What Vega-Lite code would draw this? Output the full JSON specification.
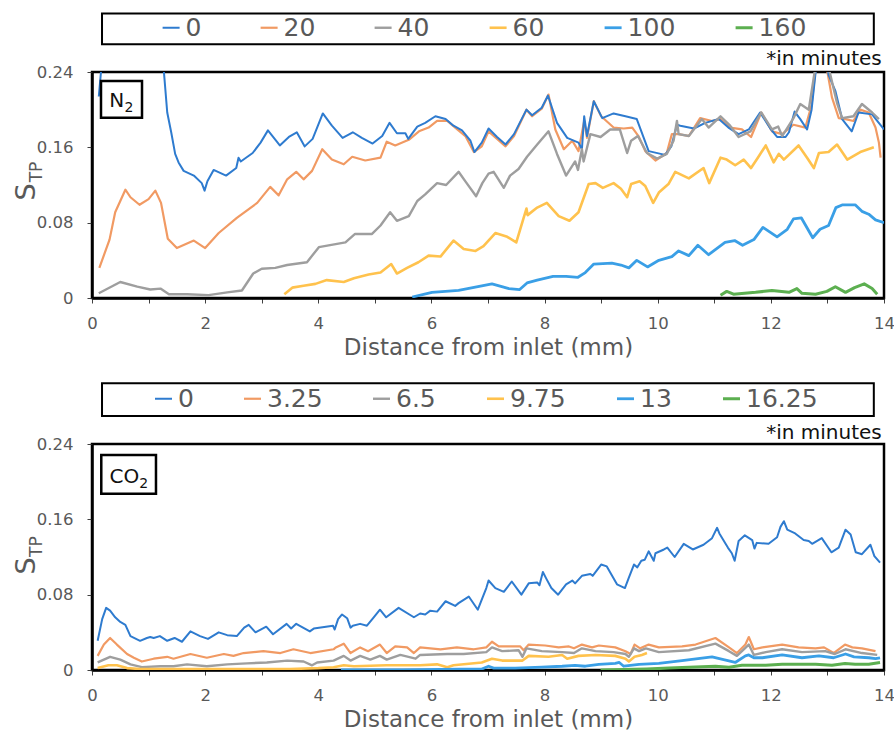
{
"$schema": "https://vega.github.io/schema/vega-lite/v6.json",
"background": "white",
"padding": {"left": 11, "top": 11, "right": 5, "bottom": 5},
"bounds": "flush",
"spacing": 146,
"config": {
 "view": {"stroke": "black", "strokeWidth": 2.5},
 "font": "DejaVu Sans",
 "axis": {"domainColor": "black", "domainWidth": 2.5, "tickColor": "#404040", "tickWidth": 1, "tickSize": 5, "labelFont": "DejaVu Sans", "labelFontSize": 16.5, "labelColor": "#595959", "labelFlush": false, "titleFont": "DejaVu Sans", "titleFontSize": 23, "titleFontWeight": "normal", "titleColor": "#595959", "grid": false},
 "legend": {"title": null, "orient": "none", "direction": "horizontal", "symbolType": "stroke", "symbolSize": 289, "symbolStrokeWidth": 2, "labelFont": "DejaVu Sans", "labelFontSize": 25, "labelColor": "#595959", "labelOffset": 2, "padding": 0}
},
"datasets": {
"n2": [
{"t":"20","x":0.13,"y":0.032},{"t":"20","x":0.31,"y":0.062},{"t":"20","x":0.41,"y":0.091},{"t":"20","x":0.59,"y":0.115},{"t":"20","x":0.68,"y":0.107},{"t":"20","x":0.84,"y":0.099},{"t":"20","x":1.0,"y":0.105},{"t":"20","x":1.12,"y":0.114},{"t":"20","x":1.22,"y":0.101},{"t":"20","x":1.34,"y":0.063},{"t":"20","x":1.5,"y":0.053},{"t":"20","x":1.8,"y":0.061},{"t":"20","x":2.0,"y":0.053},{"t":"20","x":2.24,"y":0.069},{"t":"20","x":2.56,"y":0.085},{"t":"20","x":2.92,"y":0.101},{"t":"20","x":3.15,"y":0.118},{"t":"20","x":3.3,"y":0.109},{"t":"20","x":3.45,"y":0.126},{"t":"20","x":3.61,"y":0.134},{"t":"20","x":3.74,"y":0.126},{"t":"20","x":3.89,"y":0.135},{"t":"20","x":4.07,"y":0.158},{"t":"20","x":4.24,"y":0.147},{"t":"20","x":4.45,"y":0.142},{"t":"20","x":4.6,"y":0.15},{"t":"20","x":4.83,"y":0.146},{"t":"20","x":5.1,"y":0.149},{"t":"20","x":5.21,"y":0.166},{"t":"20","x":5.36,"y":0.162},{"t":"20","x":5.6,"y":0.168},{"t":"20","x":5.78,"y":0.177},{"t":"20","x":5.95,"y":0.181},{"t":"20","x":6.1,"y":0.188},{"t":"20","x":6.28,"y":0.188},{"t":"20","x":6.42,"y":0.181},{"t":"20","x":6.6,"y":0.172},{"t":"20","x":6.75,"y":0.155},{"t":"20","x":6.89,"y":0.161},{"t":"20","x":7.01,"y":0.177},{"t":"20","x":7.16,"y":0.169},{"t":"20","x":7.31,"y":0.161},{"t":"20","x":7.46,"y":0.172},{"t":"20","x":7.68,"y":0.2},{"t":"20","x":7.78,"y":0.193},{"t":"20","x":7.95,"y":0.201},{"t":"20","x":8.07,"y":0.216},{"t":"20","x":8.19,"y":0.179},{"t":"20","x":8.34,"y":0.158},{"t":"20","x":8.49,"y":0.167},{"t":"20","x":8.6,"y":0.156},{"t":"20","x":8.7,"y":0.188},{"t":"20","x":8.75,"y":0.17},{"t":"20","x":8.87,"y":0.209},{"t":"20","x":9.0,"y":0.193},{"t":"20","x":9.22,"y":0.181},{"t":"20","x":9.4,"y":0.18},{"t":"20","x":9.55,"y":0.181},{"t":"20","x":9.66,"y":0.172},{"t":"20","x":9.78,"y":0.156},{"t":"20","x":9.96,"y":0.146},{"t":"20","x":10.16,"y":0.154},{"t":"20","x":10.25,"y":0.174},{"t":"20","x":10.37,"y":0.174},{"t":"20","x":10.55,"y":0.172},{"t":"20","x":10.75,"y":0.191},{"t":"20","x":10.96,"y":0.188},{"t":"20","x":11.11,"y":0.19},{"t":"20","x":11.28,"y":0.181},{"t":"20","x":11.49,"y":0.179},{"t":"20","x":11.65,"y":0.171},{"t":"20","x":11.83,"y":0.197},{"t":"20","x":12.02,"y":0.177},{"t":"20","x":12.2,"y":0.174},{"t":"20","x":12.4,"y":0.184},{"t":"20","x":12.61,"y":0.181},{"t":"20","x":12.72,"y":0.205},{"t":"20","x":12.84,"y":0.27},{"t":"20","x":12.94,"y":0.26},{"t":"20","x":13.08,"y":0.213},{"t":"20","x":13.2,"y":0.191},{"t":"20","x":13.32,"y":0.19},{"t":"20","x":13.46,"y":0.188},{"t":"20","x":13.58,"y":0.2},{"t":"20","x":13.73,"y":0.197},{"t":"20","x":13.85,"y":0.181},{"t":"20","x":13.91,"y":0.165},{"t":"20","x":13.94,"y":0.149},
{"t":"0","x":0.12,"y":0.214},{"t":"0","x":0.16,"y":0.241},{"t":"0","x":0.22,"y":0.29},{"t":"0","x":0.6,"y":0.32},{"t":"0","x":1.0,"y":0.3},{"t":"0","x":1.2,"y":0.275},{"t":"0","x":1.27,"y":0.241},{"t":"0","x":1.33,"y":0.197},{"t":"0","x":1.4,"y":0.176},{"t":"0","x":1.47,"y":0.153},{"t":"0","x":1.53,"y":0.144},{"t":"0","x":1.62,"y":0.135},{"t":"0","x":1.8,"y":0.13},{"t":"0","x":1.94,"y":0.122},{"t":"0","x":1.99,"y":0.114},{"t":"0","x":2.04,"y":0.124},{"t":"0","x":2.15,"y":0.136},{"t":"0","x":2.37,"y":0.13},{"t":"0","x":2.55,"y":0.138},{"t":"0","x":2.59,"y":0.149},{"t":"0","x":2.63,"y":0.145},{"t":"0","x":2.84,"y":0.154},{"t":"0","x":2.98,"y":0.165},{"t":"0","x":3.11,"y":0.178},{"t":"0","x":3.32,"y":0.162},{"t":"0","x":3.48,"y":0.171},{"t":"0","x":3.62,"y":0.176},{"t":"0","x":3.76,"y":0.161},{"t":"0","x":3.9,"y":0.169},{"t":"0","x":4.08,"y":0.196},{"t":"0","x":4.24,"y":0.183},{"t":"0","x":4.43,"y":0.17},{"t":"0","x":4.61,"y":0.176},{"t":"0","x":4.77,"y":0.17},{"t":"0","x":4.96,"y":0.164},{"t":"0","x":5.13,"y":0.172},{"t":"0","x":5.26,"y":0.186},{"t":"0","x":5.39,"y":0.175},{"t":"0","x":5.54,"y":0.175},{"t":"0","x":5.59,"y":0.169},{"t":"0","x":5.75,"y":0.182},{"t":"0","x":5.89,"y":0.186},{"t":"0","x":6.07,"y":0.193},{"t":"0","x":6.25,"y":0.19},{"t":"0","x":6.39,"y":0.183},{"t":"0","x":6.54,"y":0.178},{"t":"0","x":6.69,"y":0.167},{"t":"0","x":6.76,"y":0.155},{"t":"0","x":6.89,"y":0.165},{"t":"0","x":7.01,"y":0.18},{"t":"0","x":7.16,"y":0.171},{"t":"0","x":7.31,"y":0.163},{"t":"0","x":7.46,"y":0.174},{"t":"0","x":7.68,"y":0.2},{"t":"0","x":7.78,"y":0.194},{"t":"0","x":7.95,"y":0.202},{"t":"0","x":8.06,"y":0.215},{"t":"0","x":8.22,"y":0.186},{"t":"0","x":8.4,"y":0.17},{"t":"0","x":8.6,"y":0.165},{"t":"0","x":8.66,"y":0.158},{"t":"0","x":8.7,"y":0.193},{"t":"0","x":8.75,"y":0.172},{"t":"0","x":8.87,"y":0.209},{"t":"0","x":9.02,"y":0.191},{"t":"0","x":9.22,"y":0.196},{"t":"0","x":9.43,"y":0.193},{"t":"0","x":9.63,"y":0.19},{"t":"0","x":9.84,"y":0.156},{"t":"0","x":10.13,"y":0.152},{"t":"0","x":10.24,"y":0.161},{"t":"0","x":10.34,"y":0.184},{"t":"0","x":10.4,"y":0.183},{"t":"0","x":10.64,"y":0.18},{"t":"0","x":10.84,"y":0.186},{"t":"0","x":11.08,"y":0.19},{"t":"0","x":11.25,"y":0.181},{"t":"0","x":11.43,"y":0.174},{"t":"0","x":11.61,"y":0.179},{"t":"0","x":11.81,"y":0.197},{"t":"0","x":11.99,"y":0.18},{"t":"0","x":12.11,"y":0.171},{"t":"0","x":12.26,"y":0.171},{"t":"0","x":12.32,"y":0.176},{"t":"0","x":12.42,"y":0.198},{"t":"0","x":12.52,"y":0.19},{"t":"0","x":12.64,"y":0.179},{"t":"0","x":12.72,"y":0.2},{"t":"0","x":12.79,"y":0.239},{"t":"0","x":12.88,"y":0.275},{"t":"0","x":12.97,"y":0.26},{"t":"0","x":13.02,"y":0.237},{"t":"0","x":13.14,"y":0.22},{"t":"0","x":13.26,"y":0.19},{"t":"0","x":13.43,"y":0.177},{"t":"0","x":13.55,"y":0.197},{"t":"0","x":13.79,"y":0.195},{"t":"0","x":13.88,"y":0.188},{"t":"0","x":14.0,"y":0.179},
{"t":"40","x":0.12,"y":0.005},{"t":"40","x":0.5,"y":0.017},{"t":"40","x":0.8,"y":0.012},{"t":"40","x":1.03,"y":0.009},{"t":"40","x":1.21,"y":0.01},{"t":"40","x":1.36,"y":0.004},{"t":"40","x":1.68,"y":0.004},{"t":"40","x":2.06,"y":0.003},{"t":"40","x":2.39,"y":0.006},{"t":"40","x":2.65,"y":0.008},{"t":"40","x":2.85,"y":0.026},{"t":"40","x":3.0,"y":0.031},{"t":"40","x":3.24,"y":0.032},{"t":"40","x":3.45,"y":0.035},{"t":"40","x":3.8,"y":0.038},{"t":"40","x":4.01,"y":0.054},{"t":"40","x":4.48,"y":0.059},{"t":"40","x":4.65,"y":0.068},{"t":"40","x":4.95,"y":0.068},{"t":"40","x":5.1,"y":0.077},{"t":"40","x":5.27,"y":0.091},{"t":"40","x":5.39,"y":0.082},{"t":"40","x":5.6,"y":0.087},{"t":"40","x":5.75,"y":0.103},{"t":"40","x":5.89,"y":0.11},{"t":"40","x":6.1,"y":0.122},{"t":"40","x":6.26,"y":0.12},{"t":"40","x":6.48,"y":0.134},{"t":"40","x":6.61,"y":0.123},{"t":"40","x":6.79,"y":0.108},{"t":"40","x":6.9,"y":0.122},{"t":"40","x":7.01,"y":0.132},{"t":"40","x":7.1,"y":0.134},{"t":"40","x":7.28,"y":0.117},{"t":"40","x":7.39,"y":0.13},{"t":"40","x":7.54,"y":0.137},{"t":"40","x":7.69,"y":0.15},{"t":"40","x":7.87,"y":0.163},{"t":"40","x":8.07,"y":0.177},{"t":"40","x":8.22,"y":0.153},{"t":"40","x":8.38,"y":0.13},{"t":"40","x":8.54,"y":0.145},{"t":"40","x":8.59,"y":0.136},{"t":"40","x":8.66,"y":0.158},{"t":"40","x":8.69,"y":0.145},{"t":"40","x":8.81,"y":0.174},{"t":"40","x":8.99,"y":0.171},{"t":"40","x":9.16,"y":0.179},{"t":"40","x":9.33,"y":0.179},{"t":"40","x":9.46,"y":0.154},{"t":"40","x":9.53,"y":0.167},{"t":"40","x":9.65,"y":0.172},{"t":"40","x":9.81,"y":0.154},{"t":"40","x":9.99,"y":0.148},{"t":"40","x":10.16,"y":0.153},{"t":"40","x":10.28,"y":0.167},{"t":"40","x":10.34,"y":0.188},{"t":"40","x":10.37,"y":0.174},{"t":"40","x":10.55,"y":0.172},{"t":"40","x":10.78,"y":0.19},{"t":"40","x":10.9,"y":0.181},{"t":"40","x":11.11,"y":0.193},{"t":"40","x":11.28,"y":0.183},{"t":"40","x":11.43,"y":0.171},{"t":"40","x":11.64,"y":0.177},{"t":"40","x":11.83,"y":0.197},{"t":"40","x":12.02,"y":0.179},{"t":"40","x":12.13,"y":0.182},{"t":"40","x":12.2,"y":0.172},{"t":"40","x":12.4,"y":0.191},{"t":"40","x":12.52,"y":0.206},{"t":"40","x":12.67,"y":0.2},{"t":"40","x":12.8,"y":0.25},{"t":"40","x":12.9,"y":0.27},{"t":"40","x":13.0,"y":0.25},{"t":"40","x":13.17,"y":0.207},{"t":"40","x":13.26,"y":0.191},{"t":"40","x":13.46,"y":0.193},{"t":"40","x":13.61,"y":0.206},{"t":"40","x":13.79,"y":0.197},{"t":"40","x":13.91,"y":0.19},
{"t":"60","x":3.4,"y":0.004},{"t":"60","x":3.54,"y":0.011},{"t":"60","x":3.74,"y":0.013},{"t":"60","x":3.95,"y":0.015},{"t":"60","x":4.15,"y":0.019},{"t":"60","x":4.45,"y":0.017},{"t":"60","x":4.63,"y":0.021},{"t":"60","x":4.89,"y":0.025},{"t":"60","x":5.1,"y":0.027},{"t":"60","x":5.29,"y":0.036},{"t":"60","x":5.39,"y":0.026},{"t":"60","x":5.57,"y":0.032},{"t":"60","x":5.77,"y":0.038},{"t":"60","x":5.95,"y":0.045},{"t":"60","x":6.16,"y":0.044},{"t":"60","x":6.39,"y":0.061},{"t":"60","x":6.57,"y":0.052},{"t":"60","x":6.78,"y":0.05},{"t":"60","x":6.92,"y":0.055},{"t":"60","x":7.13,"y":0.069},{"t":"60","x":7.34,"y":0.065},{"t":"60","x":7.5,"y":0.059},{"t":"60","x":7.63,"y":0.085},{"t":"60","x":7.68,"y":0.095},{"t":"60","x":7.7,"y":0.088},{"t":"60","x":7.87,"y":0.096},{"t":"60","x":8.04,"y":0.101},{"t":"60","x":8.25,"y":0.087},{"t":"60","x":8.44,"y":0.082},{"t":"60","x":8.6,"y":0.091},{"t":"60","x":8.78,"y":0.121},{"t":"60","x":8.9,"y":0.122},{"t":"60","x":9.03,"y":0.117},{"t":"60","x":9.22,"y":0.122},{"t":"60","x":9.35,"y":0.116},{"t":"60","x":9.46,"y":0.107},{"t":"60","x":9.53,"y":0.121},{"t":"60","x":9.68,"y":0.124},{"t":"60","x":9.78,"y":0.119},{"t":"60","x":9.92,"y":0.101},{"t":"60","x":10.02,"y":0.112},{"t":"60","x":10.19,"y":0.121},{"t":"60","x":10.31,"y":0.134},{"t":"60","x":10.55,"y":0.127},{"t":"60","x":10.81,"y":0.138},{"t":"60","x":10.91,"y":0.122},{"t":"60","x":11.11,"y":0.149},{"t":"60","x":11.22,"y":0.147},{"t":"60","x":11.37,"y":0.141},{"t":"60","x":11.52,"y":0.147},{"t":"60","x":11.65,"y":0.138},{"t":"60","x":11.77,"y":0.149},{"t":"60","x":11.91,"y":0.162},{"t":"60","x":12.05,"y":0.144},{"t":"60","x":12.14,"y":0.153},{"t":"60","x":12.23,"y":0.147},{"t":"60","x":12.49,"y":0.162},{"t":"60","x":12.64,"y":0.149},{"t":"60","x":12.76,"y":0.138},{"t":"60","x":12.85,"y":0.154},{"t":"60","x":13.02,"y":0.155},{"t":"60","x":13.17,"y":0.163},{"t":"60","x":13.35,"y":0.147},{"t":"60","x":13.58,"y":0.155},{"t":"60","x":13.82,"y":0.16},
{"t":"100","x":5.66,"y":0.001},{"t":"100","x":6.01,"y":0.006},{"t":"100","x":6.48,"y":0.008},{"t":"100","x":6.89,"y":0.013},{"t":"100","x":7.07,"y":0.015},{"t":"100","x":7.37,"y":0.01},{"t":"100","x":7.56,"y":0.009},{"t":"100","x":7.69,"y":0.016},{"t":"100","x":7.87,"y":0.019},{"t":"100","x":8.15,"y":0.023},{"t":"100","x":8.38,"y":0.023},{"t":"100","x":8.59,"y":0.022},{"t":"100","x":8.72,"y":0.027},{"t":"100","x":8.87,"y":0.036},{"t":"100","x":9.19,"y":0.037},{"t":"100","x":9.35,"y":0.035},{"t":"100","x":9.49,"y":0.032},{"t":"100","x":9.63,"y":0.04},{"t":"100","x":9.82,"y":0.033},{"t":"100","x":10.02,"y":0.04},{"t":"100","x":10.25,"y":0.044},{"t":"100","x":10.37,"y":0.05},{"t":"100","x":10.55,"y":0.045},{"t":"100","x":10.71,"y":0.056},{"t":"100","x":10.9,"y":0.046},{"t":"100","x":11.19,"y":0.059},{"t":"100","x":11.36,"y":0.061},{"t":"100","x":11.5,"y":0.056},{"t":"100","x":11.7,"y":0.062},{"t":"100","x":11.86,"y":0.075},{"t":"100","x":12.11,"y":0.065},{"t":"100","x":12.29,"y":0.073},{"t":"100","x":12.4,"y":0.084},{"t":"100","x":12.54,"y":0.085},{"t":"100","x":12.74,"y":0.064},{"t":"100","x":12.87,"y":0.073},{"t":"100","x":13.02,"y":0.077},{"t":"100","x":13.15,"y":0.096},{"t":"100","x":13.27,"y":0.099},{"t":"100","x":13.49,"y":0.099},{"t":"100","x":13.61,"y":0.092},{"t":"100","x":13.73,"y":0.089},{"t":"100","x":13.85,"y":0.083},{"t":"100","x":14.0,"y":0.08},
{"t":"160","x":11.11,"y":0.003},{"t":"160","x":11.22,"y":0.007},{"t":"160","x":11.34,"y":0.004},{"t":"160","x":11.73,"y":0.006},{"t":"160","x":12.02,"y":0.008},{"t":"160","x":12.32,"y":0.006},{"t":"160","x":12.46,"y":0.01},{"t":"160","x":12.55,"y":0.005},{"t":"160","x":12.79,"y":0.004},{"t":"160","x":12.99,"y":0.007},{"t":"160","x":13.14,"y":0.012},{"t":"160","x":13.32,"y":0.006},{"t":"160","x":13.48,"y":0.011},{"t":"160","x":13.65,"y":0.015},{"t":"160","x":13.79,"y":0.01},{"t":"160","x":13.88,"y":0.004}
],
"co2": [
{"t":"3.25","x":0.1,"y":0.015},{"t":"3.25","x":0.21,"y":0.027},{"t":"3.25","x":0.32,"y":0.034},{"t":"3.25","x":0.44,"y":0.027},{"t":"3.25","x":0.62,"y":0.017},{"t":"3.25","x":0.74,"y":0.013},{"t":"3.25","x":0.88,"y":0.009},{"t":"3.25","x":1.09,"y":0.012},{"t":"3.25","x":1.33,"y":0.014},{"t":"3.25","x":1.44,"y":0.012},{"t":"3.25","x":1.74,"y":0.017},{"t":"3.25","x":2.03,"y":0.013},{"t":"3.25","x":2.33,"y":0.017},{"t":"3.25","x":2.5,"y":0.015},{"t":"3.25","x":2.68,"y":0.018},{"t":"3.25","x":3.03,"y":0.02},{"t":"3.25","x":3.33,"y":0.018},{"t":"3.25","x":3.56,"y":0.022},{"t":"3.25","x":3.86,"y":0.018},{"t":"3.25","x":4.27,"y":0.022},{"t":"3.25","x":4.31,"y":0.024},{"t":"3.25","x":4.45,"y":0.028},{"t":"3.25","x":4.57,"y":0.018},{"t":"3.25","x":4.74,"y":0.024},{"t":"3.25","x":4.88,"y":0.02},{"t":"3.25","x":5.09,"y":0.027},{"t":"3.25","x":5.21,"y":0.018},{"t":"3.25","x":5.36,"y":0.025},{"t":"3.25","x":5.57,"y":0.024},{"t":"3.25","x":5.69,"y":0.018},{"t":"3.25","x":5.8,"y":0.024},{"t":"3.25","x":6.16,"y":0.022},{"t":"3.25","x":6.45,"y":0.024},{"t":"3.25","x":6.75,"y":0.022},{"t":"3.25","x":6.97,"y":0.024},{"t":"3.25","x":7.07,"y":0.03},{"t":"3.25","x":7.19,"y":0.025},{"t":"3.25","x":7.57,"y":0.025},{"t":"3.25","x":7.63,"y":0.021},{"t":"3.25","x":7.72,"y":0.027},{"t":"3.25","x":8.01,"y":0.026},{"t":"3.25","x":8.25,"y":0.024},{"t":"3.25","x":8.43,"y":0.025},{"t":"3.25","x":8.52,"y":0.023},{"t":"3.25","x":8.66,"y":0.027},{"t":"3.25","x":8.84,"y":0.024},{"t":"3.25","x":8.96,"y":0.026},{"t":"3.25","x":9.25,"y":0.024},{"t":"3.25","x":9.43,"y":0.02},{"t":"3.25","x":9.52,"y":0.017},{"t":"3.25","x":9.59,"y":0.027},{"t":"3.25","x":9.69,"y":0.023},{"t":"3.25","x":9.84,"y":0.027},{"t":"3.25","x":10.02,"y":0.024},{"t":"3.25","x":10.43,"y":0.025},{"t":"3.25","x":10.67,"y":0.027},{"t":"3.25","x":11.02,"y":0.034},{"t":"3.25","x":11.26,"y":0.024},{"t":"3.25","x":11.4,"y":0.018},{"t":"3.25","x":11.55,"y":0.027},{"t":"3.25","x":11.61,"y":0.035},{"t":"3.25","x":11.7,"y":0.022},{"t":"3.25","x":11.85,"y":0.024},{"t":"3.25","x":12.2,"y":0.027},{"t":"3.25","x":12.49,"y":0.024},{"t":"3.25","x":12.79,"y":0.023},{"t":"3.25","x":12.94,"y":0.024},{"t":"3.25","x":13.11,"y":0.018},{"t":"3.25","x":13.31,"y":0.027},{"t":"3.25","x":13.44,"y":0.024},{"t":"3.25","x":13.61,"y":0.023},{"t":"3.25","x":13.85,"y":0.02},
{"t":"0","x":0.1,"y":0.031},{"t":"0","x":0.18,"y":0.054},{"t":"0","x":0.25,"y":0.066},{"t":"0","x":0.32,"y":0.063},{"t":"0","x":0.41,"y":0.056},{"t":"0","x":0.5,"y":0.051},{"t":"0","x":0.59,"y":0.048},{"t":"0","x":0.68,"y":0.036},{"t":"0","x":0.85,"y":0.031},{"t":"0","x":0.97,"y":0.034},{"t":"0","x":1.03,"y":0.035},{"t":"0","x":1.09,"y":0.034},{"t":"0","x":1.2,"y":0.036},{"t":"0","x":1.33,"y":0.031},{"t":"0","x":1.46,"y":0.034},{"t":"0","x":1.59,"y":0.03},{"t":"0","x":1.74,"y":0.041},{"t":"0","x":1.91,"y":0.036},{"t":"0","x":2.05,"y":0.033},{"t":"0","x":2.24,"y":0.04},{"t":"0","x":2.39,"y":0.037},{"t":"0","x":2.56,"y":0.036},{"t":"0","x":2.69,"y":0.045},{"t":"0","x":2.77,"y":0.048},{"t":"0","x":2.89,"y":0.04},{"t":"0","x":3.08,"y":0.046},{"t":"0","x":3.2,"y":0.038},{"t":"0","x":3.44,"y":0.049},{"t":"0","x":3.52,"y":0.044},{"t":"0","x":3.61,"y":0.049},{"t":"0","x":3.85,"y":0.041},{"t":"0","x":3.92,"y":0.044},{"t":"0","x":4.26,"y":0.047},{"t":"0","x":4.29,"y":0.043},{"t":"0","x":4.35,"y":0.054},{"t":"0","x":4.42,"y":0.059},{"t":"0","x":4.51,"y":0.055},{"t":"0","x":4.57,"y":0.045},{"t":"0","x":4.61,"y":0.047},{"t":"0","x":4.74,"y":0.049},{"t":"0","x":4.86,"y":0.047},{"t":"0","x":4.98,"y":0.056},{"t":"0","x":5.09,"y":0.064},{"t":"0","x":5.2,"y":0.056},{"t":"0","x":5.42,"y":0.066},{"t":"0","x":5.69,"y":0.056},{"t":"0","x":5.8,"y":0.06},{"t":"0","x":5.89,"y":0.059},{"t":"0","x":5.98,"y":0.063},{"t":"0","x":6.1,"y":0.062},{"t":"0","x":6.25,"y":0.073},{"t":"0","x":6.42,"y":0.068},{"t":"0","x":6.48,"y":0.071},{"t":"0","x":6.66,"y":0.078},{"t":"0","x":6.82,"y":0.064},{"t":"0","x":6.97,"y":0.087},{"t":"0","x":7.01,"y":0.095},{"t":"0","x":7.13,"y":0.087},{"t":"0","x":7.28,"y":0.083},{"t":"0","x":7.42,"y":0.094},{"t":"0","x":7.59,"y":0.08},{"t":"0","x":7.72,"y":0.092},{"t":"0","x":7.87,"y":0.093},{"t":"0","x":7.91,"y":0.09},{"t":"0","x":7.97,"y":0.104},{"t":"0","x":8.03,"y":0.097},{"t":"0","x":8.12,"y":0.087},{"t":"0","x":8.24,"y":0.08},{"t":"0","x":8.38,"y":0.091},{"t":"0","x":8.49,"y":0.095},{"t":"0","x":8.54,"y":0.092},{"t":"0","x":8.66,"y":0.1},{"t":"0","x":8.81,"y":0.102},{"t":"0","x":8.85,"y":0.1},{"t":"0","x":9.0,"y":0.112},{"t":"0","x":9.1,"y":0.11},{"t":"0","x":9.28,"y":0.091},{"t":"0","x":9.42,"y":0.087},{"t":"0","x":9.49,"y":0.098},{"t":"0","x":9.58,"y":0.112},{"t":"0","x":9.64,"y":0.109},{"t":"0","x":9.71,"y":0.116},{"t":"0","x":9.77,"y":0.117},{"t":"0","x":9.84,"y":0.126},{"t":"0","x":9.93,"y":0.116},{"t":"0","x":9.96,"y":0.124},{"t":"0","x":10.11,"y":0.128},{"t":"0","x":10.17,"y":0.13},{"t":"0","x":10.3,"y":0.12},{"t":"0","x":10.46,"y":0.134},{"t":"0","x":10.62,"y":0.128},{"t":"0","x":10.81,"y":0.133},{"t":"0","x":10.96,"y":0.14},{"t":"0","x":11.05,"y":0.151},{"t":"0","x":11.09,"y":0.145},{"t":"0","x":11.24,"y":0.13},{"t":"0","x":11.31,"y":0.124},{"t":"0","x":11.36,"y":0.116},{"t":"0","x":11.43,"y":0.137},{"t":"0","x":11.54,"y":0.143},{"t":"0","x":11.67,"y":0.138},{"t":"0","x":11.71,"y":0.129},{"t":"0","x":11.75,"y":0.135},{"t":"0","x":11.96,"y":0.134},{"t":"0","x":12.11,"y":0.141},{"t":"0","x":12.17,"y":0.152},{"t":"0","x":12.23,"y":0.158},{"t":"0","x":12.29,"y":0.149},{"t":"0","x":12.43,"y":0.145},{"t":"0","x":12.58,"y":0.138},{"t":"0","x":12.67,"y":0.137},{"t":"0","x":12.73,"y":0.134},{"t":"0","x":12.9,"y":0.14},{"t":"0","x":13.07,"y":0.125},{"t":"0","x":13.2,"y":0.13},{"t":"0","x":13.32,"y":0.149},{"t":"0","x":13.41,"y":0.144},{"t":"0","x":13.5,"y":0.125},{"t":"0","x":13.61,"y":0.123},{"t":"0","x":13.76,"y":0.133},{"t":"0","x":13.83,"y":0.121},{"t":"0","x":13.93,"y":0.114},
{"t":"6.5","x":0.1,"y":0.008},{"t":"6.5","x":0.32,"y":0.014},{"t":"6.5","x":0.5,"y":0.011},{"t":"6.5","x":0.68,"y":0.006},{"t":"6.5","x":0.88,"y":0.003},{"t":"6.5","x":1.21,"y":0.004},{"t":"6.5","x":1.44,"y":0.004},{"t":"6.5","x":1.68,"y":0.006},{"t":"6.5","x":2.03,"y":0.004},{"t":"6.5","x":2.39,"y":0.006},{"t":"6.5","x":2.74,"y":0.007},{"t":"6.5","x":3.09,"y":0.008},{"t":"6.5","x":3.45,"y":0.01},{"t":"6.5","x":3.74,"y":0.009},{"t":"6.5","x":3.89,"y":0.005},{"t":"6.5","x":3.98,"y":0.008},{"t":"6.5","x":4.27,"y":0.01},{"t":"6.5","x":4.45,"y":0.015},{"t":"6.5","x":4.57,"y":0.01},{"t":"6.5","x":4.74,"y":0.015},{"t":"6.5","x":4.92,"y":0.011},{"t":"6.5","x":5.09,"y":0.015},{"t":"6.5","x":5.21,"y":0.011},{"t":"6.5","x":5.45,"y":0.016},{"t":"6.5","x":5.72,"y":0.012},{"t":"6.5","x":5.8,"y":0.016},{"t":"6.5","x":6.28,"y":0.017},{"t":"6.5","x":6.57,"y":0.017},{"t":"6.5","x":6.97,"y":0.019},{"t":"6.5","x":7.07,"y":0.024},{"t":"6.5","x":7.25,"y":0.02},{"t":"6.5","x":7.54,"y":0.021},{"t":"6.5","x":7.61,"y":0.014},{"t":"6.5","x":7.68,"y":0.023},{"t":"6.5","x":7.95,"y":0.02},{"t":"6.5","x":8.31,"y":0.019},{"t":"6.5","x":8.52,"y":0.018},{"t":"6.5","x":8.66,"y":0.023},{"t":"6.5","x":8.9,"y":0.02},{"t":"6.5","x":9.22,"y":0.019},{"t":"6.5","x":9.43,"y":0.017},{"t":"6.5","x":9.49,"y":0.014},{"t":"6.5","x":9.58,"y":0.023},{"t":"6.5","x":9.67,"y":0.02},{"t":"6.5","x":9.79,"y":0.023},{"t":"6.5","x":10.02,"y":0.019},{"t":"6.5","x":10.55,"y":0.021},{"t":"6.5","x":11.02,"y":0.028},{"t":"6.5","x":11.26,"y":0.02},{"t":"6.5","x":11.4,"y":0.015},{"t":"6.5","x":11.61,"y":0.027},{"t":"6.5","x":11.7,"y":0.016},{"t":"6.5","x":11.91,"y":0.019},{"t":"6.5","x":12.2,"y":0.022},{"t":"6.5","x":12.55,"y":0.019},{"t":"6.5","x":12.96,"y":0.02},{"t":"6.5","x":13.13,"y":0.017},{"t":"6.5","x":13.32,"y":0.022},{"t":"6.5","x":13.61,"y":0.018},{"t":"6.5","x":13.88,"y":0.016},
{"t":"9.75","x":0.1,"y":0.002},{"t":"9.75","x":0.29,"y":0.005},{"t":"9.75","x":0.44,"y":0.005},{"t":"9.75","x":0.62,"y":0.002},{"t":"9.75","x":0.85,"y":0.001},{"t":"9.75","x":1.5,"y":0.001},{"t":"9.75","x":2.5,"y":0.001},{"t":"9.75","x":3.5,"y":0.001},{"t":"9.75","x":4.0,"y":0.002},{"t":"9.75","x":4.27,"y":0.003},{"t":"9.75","x":4.45,"y":0.005},{"t":"9.75","x":4.63,"y":0.004},{"t":"9.75","x":5.21,"y":0.005},{"t":"9.75","x":5.8,"y":0.005},{"t":"9.75","x":6.1,"y":0.006},{"t":"9.75","x":6.28,"y":0.003},{"t":"9.75","x":6.39,"y":0.005},{"t":"9.75","x":6.89,"y":0.008},{"t":"9.75","x":7.07,"y":0.012},{"t":"9.75","x":7.25,"y":0.01},{"t":"9.75","x":7.61,"y":0.01},{"t":"9.75","x":7.72,"y":0.015},{"t":"9.75","x":8.07,"y":0.014},{"t":"9.75","x":8.31,"y":0.016},{"t":"9.75","x":8.4,"y":0.012},{"t":"9.75","x":8.6,"y":0.015},{"t":"9.75","x":8.9,"y":0.016},{"t":"9.75","x":9.25,"y":0.015},{"t":"9.75","x":9.43,"y":0.012},{"t":"9.75","x":9.49,"y":0.009},{"t":"9.75","x":9.59,"y":0.014},{"t":"9.75","x":9.72,"y":0.016},{"t":"9.75","x":9.81,"y":0.018},
{"t":"13","x":4.4,"y":0.0},{"t":"13","x":5.5,"y":0.0},{"t":"13","x":6.5,"y":0.001},{"t":"13","x":6.89,"y":0.001},{"t":"13","x":7.01,"y":0.004},{"t":"13","x":7.1,"y":0.002},{"t":"13","x":7.48,"y":0.002},{"t":"13","x":7.95,"y":0.003},{"t":"13","x":8.31,"y":0.004},{"t":"13","x":8.54,"y":0.005},{"t":"13","x":8.72,"y":0.004},{"t":"13","x":8.96,"y":0.006},{"t":"13","x":9.25,"y":0.007},{"t":"13","x":9.32,"y":0.008},{"t":"13","x":9.4,"y":0.004},{"t":"13","x":9.67,"y":0.006},{"t":"13","x":10.02,"y":0.007},{"t":"13","x":10.43,"y":0.01},{"t":"13","x":10.96,"y":0.014},{"t":"13","x":11.37,"y":0.008},{"t":"13","x":11.55,"y":0.015},{"t":"13","x":11.61,"y":0.016},{"t":"13","x":11.7,"y":0.013},{"t":"13","x":11.85,"y":0.013},{"t":"13","x":12.2,"y":0.016},{"t":"13","x":12.55,"y":0.013},{"t":"13","x":12.85,"y":0.015},{"t":"13","x":13.11,"y":0.013},{"t":"13","x":13.32,"y":0.017},{"t":"13","x":13.47,"y":0.014},{"t":"13","x":13.73,"y":0.013},{"t":"13","x":13.85,"y":0.012},{"t":"13","x":13.93,"y":0.013},
{"t":"16.25","x":8.99,"y":0.0},{"t":"16.25","x":9.8,"y":0.001},{"t":"16.25","x":10.2,"y":0.002},{"t":"16.25","x":10.55,"y":0.003},{"t":"16.25","x":11.02,"y":0.004},{"t":"16.25","x":11.26,"y":0.003},{"t":"16.25","x":11.49,"y":0.005},{"t":"16.25","x":11.91,"y":0.005},{"t":"16.25","x":12.2,"y":0.006},{"t":"16.25","x":12.79,"y":0.006},{"t":"16.25","x":13.08,"y":0.005},{"t":"16.25","x":13.31,"y":0.007},{"t":"16.25","x":13.49,"y":0.006},{"t":"16.25","x":13.73,"y":0.006},{"t":"16.25","x":13.93,"y":0.008}
]
},
"vconcat": [
{
 "width": 792, "height": 226,
 "layer": [
  {"data": {"name": "n2"}, "mark": {"type": "line", "clip": true, "strokeJoin": "round"},
   "encoding": {
    "x": {"field": "x", "type": "quantitative", "scale": {"domain": [0, 14], "nice": false}, "axis": {"values": [0,1,2,3,4,5,6,7,8,9,10,11,12,13,14], "labelExpr": "datum.value % 2 == 0 ? format(datum.value, 'd') : ''", "title": "Distance from inlet (mm)", "labelPadding": 12, "titlePadding": 5}},
    "y": {"field": "y", "type": "quantitative", "scale": {"domain": [0, 0.24], "nice": false}, "axis": {"values": [0,0.04,0.08,0.12,0.16,0.2,0.24], "labelExpr": "datum.value == 0 ? '0' : (round(datum.value*100) % 8 == 0 ? format(datum.value, '.2f') : '')", "title": null, "labelPadding": 14}},
    "color": {"field": "t", "type": "nominal", "scale": {"domain": ["0","20","40","60","100","160"], "range": ["#2E7BCF","#F19A63","#9E9E9E","#FFC24D","#3A9FE6","#5CAF50"]}, "legend": {"legendX": 66.6, "legendY": -57, "columnPadding": 54}},
    "strokeWidth": {"field": "t", "type": "nominal", "scale": {"domain": ["0","20","40","60","100","160"], "range": [2, 3, 1.5, 2.5, 2, 2]}, "legend": null}
   }},
  {"data": {"values": [{}]}, "mark": {"type": "rect", "fill": "white", "stroke": "black", "strokeWidth": 2}, "encoding": {"x": {"datum": 0.177, "type": "quantitative"}, "x2": {"datum": 13.82}, "y": {"datum": 0.302, "type": "quantitative"}, "y2": {"datum": 0.2695}}},
  {"data": {"values": [{}]}, "mark": {"type": "rect", "fill": "white", "stroke": "black", "strokeWidth": 2.5}, "encoding": {"x": {"datum": 0.159, "type": "quantitative"}, "x2": {"datum": 0.884}, "y": {"datum": 0.2304, "type": "quantitative"}, "y2": {"datum": 0.1915}}},
  {"data": {"values": [{}]}, "mark": {"type": "text", "text": "N", "fontSize": 20, "color": "#111", "align": "center", "baseline": "alphabetic"}, "encoding": {"x": {"datum": 0.437, "type": "quantitative"}, "y": {"datum": 0.2031, "type": "quantitative"}}},
  {"data": {"values": [{}]}, "mark": {"type": "text", "text": "2", "fontSize": 14, "color": "#111", "align": "center", "baseline": "alphabetic"}, "encoding": {"x": {"datum": 0.654, "type": "quantitative"}, "y": {"datum": 0.1975, "type": "quantitative"}}},
  {"data": {"values": [{}]}, "mark": {"type": "text", "text": "*in minutes", "fontSize": 20, "color": "#111", "align": "right", "baseline": "alphabetic"}, "encoding": {"x": {"datum": 13.96, "type": "quantitative"}, "y": {"datum": 0.2474, "type": "quantitative"}}},
  {"data": {"values": [{}]}, "mark": {"type": "text", "text": "S", "fontSize": 27, "angle": 270, "color": "#595959", "align": "center", "baseline": "alphabetic"}, "encoding": {"x": {"datum": -1.008, "type": "quantitative"}, "y": {"datum": 0.1126, "type": "quantitative"}}},
  {"data": {"values": [{}]}, "mark": {"type": "text", "text": "TP", "fontSize": 17, "angle": 270, "color": "#595959", "align": "center", "baseline": "alphabetic"}, "encoding": {"x": {"datum": -0.884, "type": "quantitative"}, "y": {"datum": 0.1338, "type": "quantitative"}}}
 ]
},
{
 "width": 792, "height": 226,
 "layer": [
  {"data": {"name": "co2"}, "mark": {"type": "line", "clip": true, "strokeJoin": "round"},
   "encoding": {
    "x": {"field": "x", "type": "quantitative", "scale": {"domain": [0, 14], "nice": false}, "axis": {"values": [0,1,2,3,4,5,6,7,8,9,10,11,12,13,14], "labelExpr": "datum.value % 2 == 0 ? format(datum.value, 'd') : ''", "title": "Distance from inlet (mm)", "labelPadding": 12, "titlePadding": 5}},
    "y": {"field": "y", "type": "quantitative", "scale": {"domain": [0, 0.24], "nice": false}, "axis": {"values": [0,0.04,0.08,0.12,0.16,0.2,0.24], "labelExpr": "datum.value == 0 ? '0' : (round(datum.value*100) % 8 == 0 ? format(datum.value, '.2f') : '')", "title": null, "labelPadding": 14}},
    "color": {"field": "t", "type": "nominal", "scale": {"domain": ["0","3.25","6.5","9.75","13","16.25"], "range": ["#2E7BCF","#F19A63","#9E9E9E","#FFC24D","#3A9FE6","#5CAF50"]}, "legend": {"legendX": 59, "legendY": -58, "columnPadding": 45}},
    "strokeWidth": {"field": "t", "type": "nominal", "scale": {"domain": ["0","3.25","6.5","9.75","13","16.25"], "range": [2, 3, 1.5, 2.5, 2, 2]}, "legend": null}
   }},
  {"data": {"values": [{}]}, "mark": {"type": "rect", "fill": "white", "stroke": "black", "strokeWidth": 2}, "encoding": {"x": {"datum": 0.177, "type": "quantitative"}, "x2": {"datum": 13.82}, "y": {"datum": 0.3045, "type": "quantitative"}, "y2": {"datum": 0.2697}}},
  {"data": {"values": [{}]}, "mark": {"type": "rect", "fill": "white", "stroke": "black", "strokeWidth": 2.5}, "encoding": {"x": {"datum": 0.164, "type": "quantitative"}, "x2": {"datum": 1.131}, "y": {"datum": 0.2283, "type": "quantitative"}, "y2": {"datum": 0.1872}}},
  {"data": {"values": [{}]}, "mark": {"type": "text", "text": "CO", "fontSize": 20, "color": "#111", "align": "center", "baseline": "alphabetic"}, "encoding": {"x": {"datum": 0.571, "type": "quantitative"}, "y": {"datum": 0.1989, "type": "quantitative"}}},
  {"data": {"values": [{}]}, "mark": {"type": "text", "text": "2", "fontSize": 14, "color": "#111", "align": "center", "baseline": "alphabetic"}, "encoding": {"x": {"datum": 0.913, "type": "quantitative"}, "y": {"datum": 0.1936, "type": "quantitative"}}},
  {"data": {"values": [{}]}, "mark": {"type": "text", "text": "*in minutes", "fontSize": 20, "color": "#111", "align": "right", "baseline": "alphabetic"}, "encoding": {"x": {"datum": 13.96, "type": "quantitative"}, "y": {"datum": 0.2453, "type": "quantitative"}}},
  {"data": {"values": [{}]}, "mark": {"type": "text", "text": "S", "fontSize": 27, "angle": 270, "color": "#595959", "align": "center", "baseline": "alphabetic"}, "encoding": {"x": {"datum": -1.008, "type": "quantitative"}, "y": {"datum": 0.1105, "type": "quantitative"}}},
  {"data": {"values": [{}]}, "mark": {"type": "text", "text": "TP", "fontSize": 17, "angle": 270, "color": "#595959", "align": "center", "baseline": "alphabetic"}, "encoding": {"x": {"datum": -0.884, "type": "quantitative"}, "y": {"datum": 0.131, "type": "quantitative"}}}
 ]
}
],
"resolve": {"scale": {"color": "independent", "strokeWidth": "independent"}, "legend": {"color": "independent"}}
}
